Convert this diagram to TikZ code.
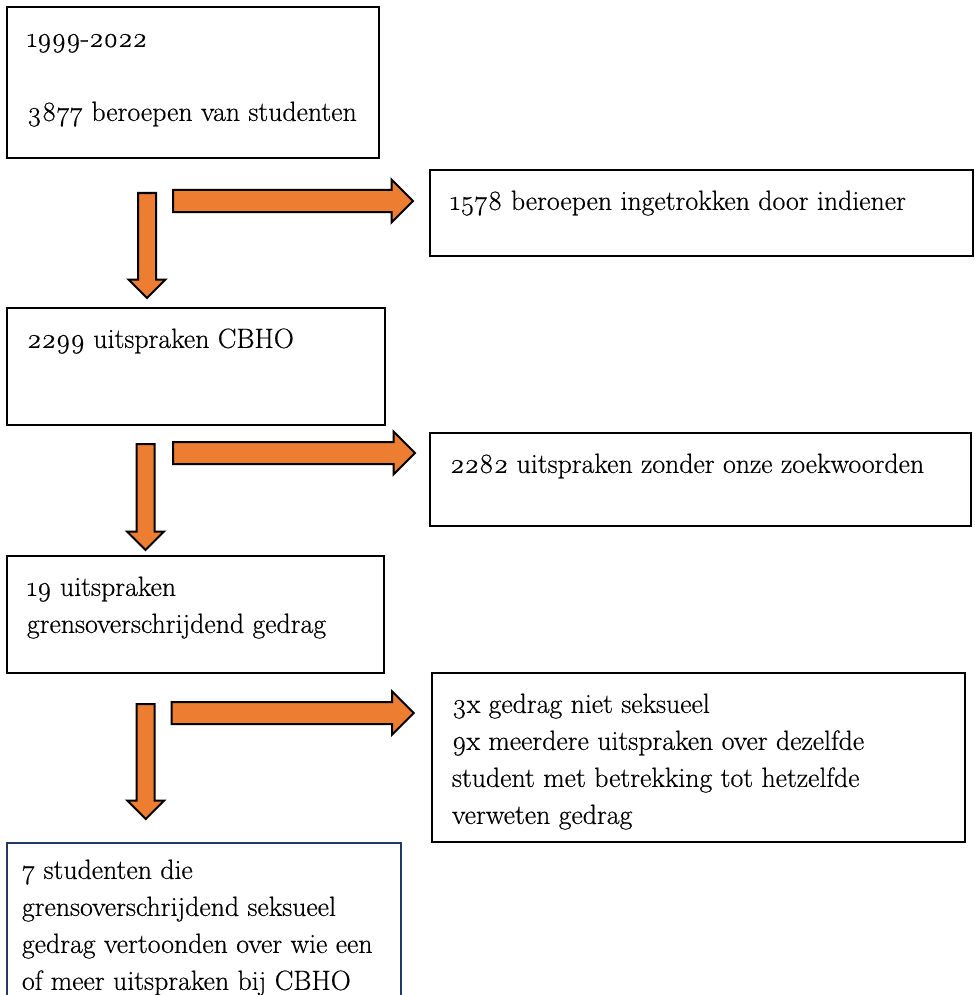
\documentclass[tikz,border=0pt]{standalone}
\usepackage{fontspec}
\setmainfont{Latin Modern Roman}[Numbers=OldStyle, FakeBold=0.5]
\usepackage{tikz}
\usetikzlibrary{shapes.arrows, calc, positioning}

\definecolor{arroworange}{RGB}{237,125,49}
\definecolor{boxnavy}{RGB}{36,56,104}

% box content: width, height, lines
\newcommand{\boxlines}[3]{\parbox[t][#2pt][t]{#1pt}{\raggedright\strut #3}}

\tikzset{
    flowbox/.style={draw, line width=2pt, anchor=north west, outer sep=0pt, inner xsep=20pt, inner ysep=14pt,
        font=\fontsize{27.8}{37}\selectfont},
    downarrow/.style={single arrow, draw=black, line width=2pt, fill=arroworange, inner sep=8pt,
        minimum width=35pt, single arrow head extend=9.5pt, shape border rotate=270, anchor=tail},
    rightarrow/.style={single arrow, draw=black, line width=2pt, fill=arroworange, inner sep=10pt,
        minimum width=41pt, minimum height=240pt, single arrow head extend=10.5pt, anchor=tail}
}

\begin{document}
\begin{tikzpicture}[x=1pt, y=1pt]
    \useasboundingbox (0,0) rectangle (974,-995);

    % Left column
    \node [flowbox] (start) at (7,-7) {\boxlines{332}{123}{1999-2022\\[37pt]3877 beroepen van studenten}};
    \node [flowbox, below=150pt of start.south west, anchor=north west] (verdicts) {\boxlines{338}{89}{2299 uitspraken CBHO}};
    \node [flowbox, below=131pt of verdicts.south west, anchor=north west] (conduct) {\boxlines{337}{89}{19 uitspraken\\grensoverschrijdend gedrag}};
    \node [flowbox, draw=boxnavy, line width=2.6pt, inner xsep=15pt, inner ysep=10pt, below=170pt of conduct.south west, anchor=north west] (result) {\boxlines{364}{140}{7 studenten die\\grensoverschrijdend seksueel\\gedrag vertoonden over wie een\\of meer uitspraken bij CBHO}};

    % Right column
    \node [flowbox] (withdrawn) at (430,-170) {\boxlines{503}{58}{1578 beroepen ingetrokken door indiener}};
    \node [flowbox] (nokeys) at (430,-433) {\boxlines{501}{65}{2282 uitspraken zonder onze zoekwoorden}};
    \node [flowbox] (excluded) at (432,-673) {\boxlines{493}{141}{3x gedrag niet seksueel\\9x meerdere uitspraken over dezelfde\\student met betrekking tot hetzelfde\\verweten gedrag}};

    % Down arrows
    \node [downarrow, minimum height=105pt] (down1) at ($(start.south west)+(140,-34)$) {};
    \node [downarrow, minimum height=106pt] (down2) at ($(verdicts.south west)+(138.5,-18)$) {};
    \node [downarrow, minimum height=115pt] (down3) at ($(conduct.south west)+(138.7,-30)$) {};

    % Right arrows
    \node [rightarrow] (right1) at ($(down1.tail)+(25,-9)$) {};
    \node [rightarrow, minimum height=242pt] (right2) at ($(down2.tail)+(26.5,-10)$) {};
    \node [rightarrow, minimum height=242pt] (right3) at ($(down3.tail)+(25,-10)$) {};

\end{tikzpicture}
\end{document}
